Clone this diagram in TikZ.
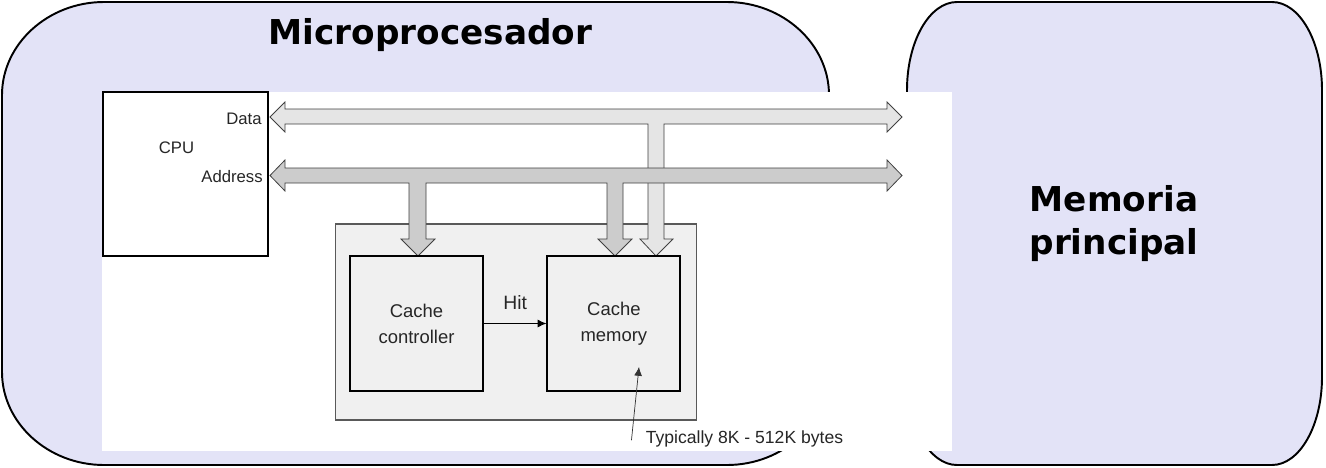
\documentclass[tikz,border=0pt]{standalone}
\usepackage{fontspec}
\setmainfont{Liberation Sans}
\newfontfamily\titlefont{DejaVu Sans}
\usepackage{tikz}
\usetikzlibrary{arrows.meta, positioning}

\definecolor{procfill}{RGB}{227,227,247}

\begin{document}
\begin{tikzpicture}[
    x=0.02cm, y=-0.02cm,
    region/.style={draw=black, line width=1.1pt, fill=procfill},
    bigtext/.style={font=\titlefont\bfseries\fontsize{19.5}{24.5}\selectfont, align=center},
    unit/.style={rectangle, draw=black, line width=1.1pt, fill=gray!12, minimum width=2.66cm, minimum height=2.7cm, align=center, font=\fontsize{10.5}{14.7}\selectfont, text=black!85},
    bus/.style={draw=black!75, line width=0.45pt, line join=miter},
    lbl/.style={font=\fontsize{9.5}{11}\selectfont, text=black!85, inner sep=0pt},
    line/.style={draw=black, line width=0.5pt, -{Latex[length=5pt, width=4.5pt]}}
]
    \useasboundingbox (0,0) rectangle (1326,467);

    % Regions
    \path[region] (104,2) -- (727,2) .. controls (783,2) and (829,44) .. (829,95)
        -- (829,372) .. controls (829,423) and (783,465) .. (727,465)
        -- (104,465) .. controls (48,465) and (2,423) .. (2,372)
        -- (2,95) .. controls (2,44) and (48,2) .. (104,2) -- cycle;
    \path[region] (957,2) -- (1272,2) .. controls (1299.6,2) and (1322,41.4) .. (1322,90)
        -- (1322,377) .. controls (1322,425.6) and (1299.6,465) .. (1272,465)
        -- (957,465) .. controls (929.4,465) and (907,425.6) .. (907,377)
        -- (907,90) .. controls (907,41.4) and (929.4,2) .. (957,2) -- cycle;
    \fill[white] (102,92) rectangle (952,451);

    \node[bigtext, anchor=base] (proctitle) at (430.5,44) {Microprocesador};
    \node[bigtext] (memtitle) at (1114,224) {Memoria\\principal};

    % CPU
    \node[rectangle, draw=black, line width=0.6pt, minimum width=3.3cm, minimum height=3.28cm, inner sep=0pt] (cpu) at (185.5,174) {};
    \draw[line width=1.1pt] (cpu.north east) -- (cpu.south east);
    \node[lbl, anchor=base] (cpulbl) at (176.5,153) {CPU};
    \node[lbl, anchor=base east] (datalbl) at (262,124) {Data};
    \node[lbl, anchor=base east] (addrlbl) at (263,182) {Address};

    % Cache
    \node[rectangle, draw=black!65, line width=0.6pt, fill=gray!12, minimum width=7.24cm, minimum height=3.92cm] (cachebox) at (516,322) {};

    % Buses
    \path[bus, fill=gray!20] (270,117) -- (285,102) -- (285,109) -- (887,109) -- (887,102) -- (902,117)
        -- (887,132) -- (887,124) -- (664,124) -- (664,239) -- (673,239) -- (656,256) -- (640,239)
        -- (648,239) -- (648,124) -- (285,124) -- (285,132) -- cycle;
    \path[bus, fill=gray!40] (270,175.5) -- (285,160) -- (285,168) -- (887,168) -- (887,160) -- (902,175.5)
        -- (887,191) -- (887,183) -- (623,183) -- (623,239) -- (632,239) -- (615,256) -- (598,239)
        -- (607,239) -- (607,183) -- (426,183) -- (426,239) -- (435,239) -- (418,256) -- (401,239)
        -- (409,239) -- (409,183) -- (285,183) -- (285,191) -- cycle;

    \node[unit] (ctrl) at (416.5,323.5) {Cache\\controller};
    \node[unit, right=1.25cm of ctrl] (mem) {Cache\\memory};
    \node[lbl, font=\fontsize{10}{12}\selectfont, anchor=base west, inner sep=2pt] (note) at (642,443) {Typically 8K - 512K bytes};
    \coordinate (memtip) at (639,367);

    % Connections
    \draw[line] (ctrl) -- node[above=7.5pt, font=\fontsize{11}{13}\selectfont, text=black!85, inner sep=0pt] {Hit} (mem);
    \draw[line, draw=black!80, line width=0.4pt] ([xshift=-6pt,yshift=-1pt]note.west) -- (memtip);
\end{tikzpicture}
\end{document}
